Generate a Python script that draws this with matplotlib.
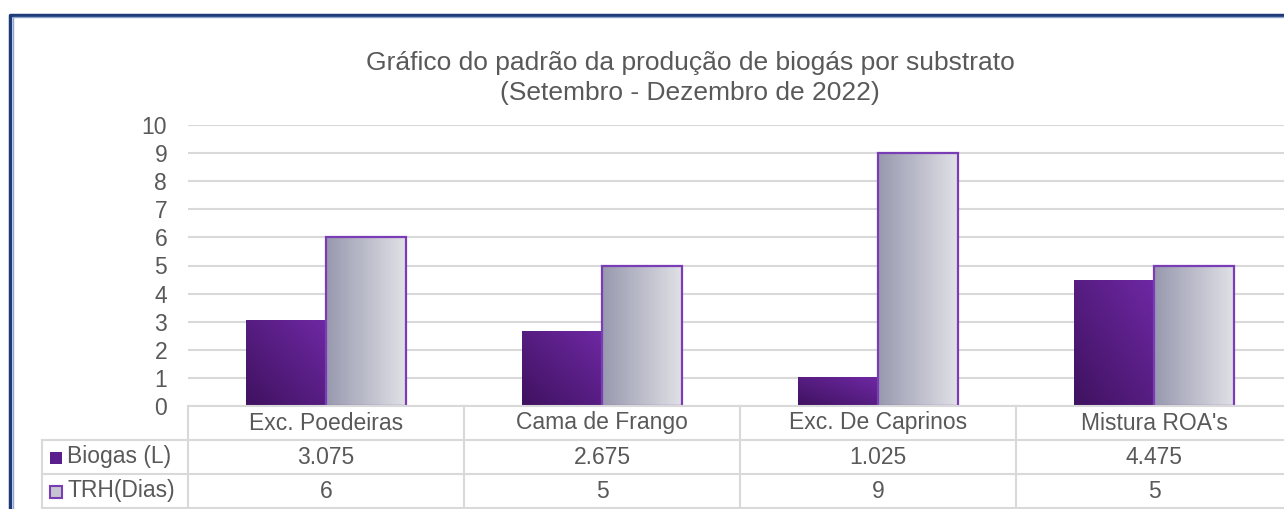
import numpy as np
import matplotlib
matplotlib.use("Agg")
import matplotlib.pyplot as plt
from matplotlib.lines import Line2D
from matplotlib.patches import Rectangle
from matplotlib.colors import LinearSegmentedColormap

plt.rcParams['font.family'] = ['Liberation Sans', 'DejaVu Sans']

categories = ["Exc. Poedeiras", "Cama de Frango", "Exc. De Caprinos", "Mistura ROA's"]
biogas = [3.075, 2.675, 1.025, 4.475]
trh = [6, 5, 9, 5]
biogas_labels = ["3.075", "2.675", "1.025", "4.475"]
trh_labels = ["6", "5", "9", "5"]
series_names = ["Biogas (L)", "TRH(Dias)"]
title_lines = ["Gráfico do padrão da produção de biogás por substrato",
               "(Setembro - Dezembro de 2022)"]

W, H = 1284, 509
fig = plt.figure(figsize=(W / 100, H / 100), dpi=100)
TXT = '#595959'
GRID = '#d9d9d9'
FS = 16.5

def fx(px):
    return px / W

def fy(py):
    return 1 - py / H

# axes: x from 188 to 1292 px, y from 406 (0) to 125 (10)
ax = fig.add_axes([fx(188), fy(406), fx(1292 - 188), (406 - 125) / H])
ax.set_xlim(-0.5, len(categories) - 0.5)
ax.set_ylim(0, 10)
ax.set_yticks(range(0, 11))
ax.set_xticks([])
for s in ax.spines.values():
    s.set_visible(False)
ax.yaxis.grid(True, color=GRID, lw=1.5)
ax.set_axisbelow(True)
ax.tick_params(axis='y', length=0, labelsize=FS, labelcolor=TXT, pad=15)

bw = 80 / 276
x = np.arange(len(categories))
cmap_b = LinearSegmentedColormap.from_list('b', ['#3f1260', '#6e28a3'])
cmap_t = LinearSegmentedColormap.from_list('t', ['#9899af', '#e0e0e6'])

bars_b = ax.bar(x - bw / 2, biogas, width=bw, color='none', edgecolor='none', zorder=2)
bars_t = ax.bar(x + bw / 2, trh, width=bw, color='none', edgecolor='#7a3db5', lw=1.6, zorder=4)

uu, vv = np.meshgrid(np.linspace(0, 1, 64), np.linspace(0, 1, 64))
grad_b = (uu + vv) / 2
grad_t = uu
for bars, grad, cmap in [(bars_b, grad_b, cmap_b), (bars_t, grad_t, cmap_t)]:
    for r in bars:
        x0, y0 = r.get_x(), r.get_y()
        w, h = r.get_width(), r.get_height()
        im = ax.imshow(grad, cmap=cmap, origin='lower', extent=[x0, x0 + w, y0, y0 + h],
                       aspect='auto', zorder=3, interpolation='bilinear')
        im.set_clip_path(r)
ax.set_xlim(-0.5, len(categories) - 0.5)
ax.set_ylim(0, 10)

fig.text(fx(690), fy(63), title_lines[0], ha='center', va='center', fontsize=19, color=TXT)
fig.text(fx(690), fy(93), title_lines[1], ha='center', va='center', fontsize=19, color=TXT)

# table
col_edges = [188 + 276 * i for i in range(len(categories) + 1)]
def hline(y, x0, x1):
    fig.add_artist(Line2D([fx(x0), fx(x1)], [fy(y), fy(y)], color=GRID, lw=1.5))
def vline(xp, y0, y1):
    fig.add_artist(Line2D([fx(xp), fx(xp)], [fy(y0), fy(y1)], color=GRID, lw=1.5))
hline(406, 188, 1300)
hline(440, 42, 1300)
hline(474, 42, 1300)
hline(508, 42, 1300)
for c in col_edges:
    vline(c, 406, 512)
vline(42, 440, 512)

for i, cat in enumerate(categories):
    cx = (col_edges[i] + col_edges[i + 1]) / 2
    fig.text(fx(cx), fy(423), cat, ha='center', va='center', fontsize=FS, color=TXT)
    fig.text(fx(cx), fy(457), biogas_labels[i], ha='center', va='center', fontsize=FS, color=TXT)
    fig.text(fx(cx), fy(491), trh_labels[i], ha='center', va='center', fontsize=FS, color=TXT)

# legend keys in table
kb = Rectangle((fx(50), fy(464)), fx(12), 12 / H, transform=fig.transFigure,
               facecolor='#5a1f8c', edgecolor='none')
fig.add_artist(kb)
kt = Rectangle((fx(50), fy(498)), fx(12), 12 / H, transform=fig.transFigure,
               facecolor='#c4c5d0', edgecolor='#7a3db5', lw=1.5)
fig.add_artist(kt)
fig.text(fx(67), fy(457), series_names[0], ha='left', va='center', fontsize=FS, color=TXT)
fig.text(fx(67), fy(491), series_names[1], ha='left', va='center', fontsize=FS, color=TXT)

# outer frame (double line)
fig.add_artist(Line2D([fx(10), fx(10), fx(1300)], [fy(520), fy(14.5), fy(14.5)],
                      color='#1f3a78', lw=2.5))
fig.add_artist(Line2D([fx(12.5), fx(12.5), fx(1300)], [fy(520), fy(16.5), fy(16.5)],
                      color='#8fa6d0', lw=1.0))

fig.savefig('out.png', dpi=100)
